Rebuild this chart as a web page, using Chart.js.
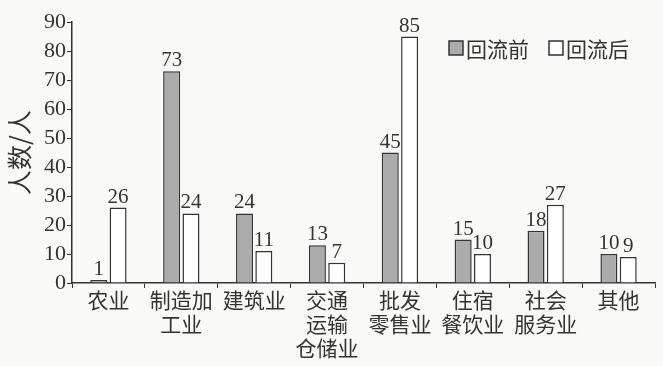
<!DOCTYPE html>
<html>
<head>
<meta charset="utf-8">
<script src="https://cdn.jsdelivr.net/npm/chart.js@4/dist/chart.umd.min.js"></script>
<style>
  html, body { margin: 0; padding: 0; background: #f9f9f7; }
</style>
</head>
<body>
<canvas id="myChart" width="663" height="366"></canvas>
<script>
// datos
const categorias = ["农业", ["制造加", "工业"], "建筑业", ["交通", "运输", "仓储业"], ["批发", "零售业"], ["住宿", "餐饮业"], ["社会", "服务业"], "其他"];
const antes = [1, 73, 24, 13, 45, 15, 18, 10];
const despues = [26, 24, 11, 7, 85, 10, 27, 9];
const nombres = ["回流前", "回流后"];
const ticksY = [0, 10, 20, 30, 40, 50, 60, 70, 80, 90];

const tinta = "#333";
const serif = "'Times New Roman', 'Liberation Serif', serif";
const cjk = "'Noto Sans CJK SC', sans-serif";

// numeros encima de las barras
const etiquetas = {
  id: "etiquetas",
  afterDatasetsDraw(chart) {
    const ctx = chart.ctx;
    ctx.save();
    ctx.fillStyle = tinta;
    ctx.font = "21px " + serif;
    ctx.textAlign = "center";
    ctx.textBaseline = "bottom";
    chart.data.datasets.forEach((ds, i) => {
      chart.getDatasetMeta(i).data.forEach((bar, j) => {
        ctx.fillText(ds.data[j], bar.x, bar.y);
      });
    });
    ctx.restore();
  }
};

// leyenda arriba a la derecha
const leyenda = {
  id: "leyenda",
  afterDraw(chart) {
    const ctx = chart.ctx;
    ctx.save();
    ctx.font = "21px " + cjk;
    ctx.textBaseline = "middle";
    let x = 449;
    const y = 48;
    chart.data.datasets.forEach((ds) => {
      ctx.fillStyle = ds.backgroundColor;
      ctx.strokeStyle = tinta;
      ctx.lineWidth = 1.5;
      ctx.fillRect(x, y - 7, 14, 14);
      ctx.strokeRect(x, y - 7, 14, 14);
      ctx.fillStyle = tinta;
      ctx.fillText(ds.label, x + 17, y + 1);
      x += 100;
    });
    ctx.restore();
  }
};

let myChart = new Chart(document.getElementById("myChart").getContext("2d"), {
  type: "bar",
  data: {
    labels: categorias,
    datasets: [
      { label: nombres[0], data: antes, backgroundColor: "#ababab", borderColor: tinta, borderWidth: 1.5 },
      { label: nombres[1], data: despues, backgroundColor: "#ffffff", borderColor: tinta, borderWidth: 1.5 }
    ]
  },
  options: {
    responsive: false,
    animation: false,
    devicePixelRatio: 1,
    layout: { padding: { top: 22, right: 8, left: 4, bottom: 4 } },
    datasets: { bar: { categoryPercentage: 0.53, barPercentage: 0.88 } },
    plugins: { legend: { display: false }, tooltip: { enabled: false } },
    scales: {
      x: {
        grid: { drawOnChartArea: false, drawTicks: true, tickLength: 5, color: tinta, offset: true },
        border: { color: tinta, width: 1.5 },
        ticks: { color: tinta, font: { family: cjk, size: 21, lineHeight: 1.15 }, maxRotation: 0, autoSkip: false, padding: 0 },
        afterFit(scale) { scale.height = 79; }
      },
      y: {
        min: 0,
        max: 90,
        afterBuildTicks(scale) { scale.ticks = ticksY.map(v => ({ value: v })); },
        grid: { drawOnChartArea: false, drawTicks: true, tickLength: 5, color: tinta },
        border: { color: tinta, width: 1.5 },
        ticks: { color: tinta, font: { family: serif, size: 22 }, padding: 1, autoSkip: false },
        title: { display: true, text: "人数/人", color: tinta, font: { family: cjk, size: 25 }, padding: 0 },
        afterFit(scale) { scale.width = 68; }
      }
    }
  },
  plugins: [etiquetas, leyenda]
});
</script>
</body>
</html>
